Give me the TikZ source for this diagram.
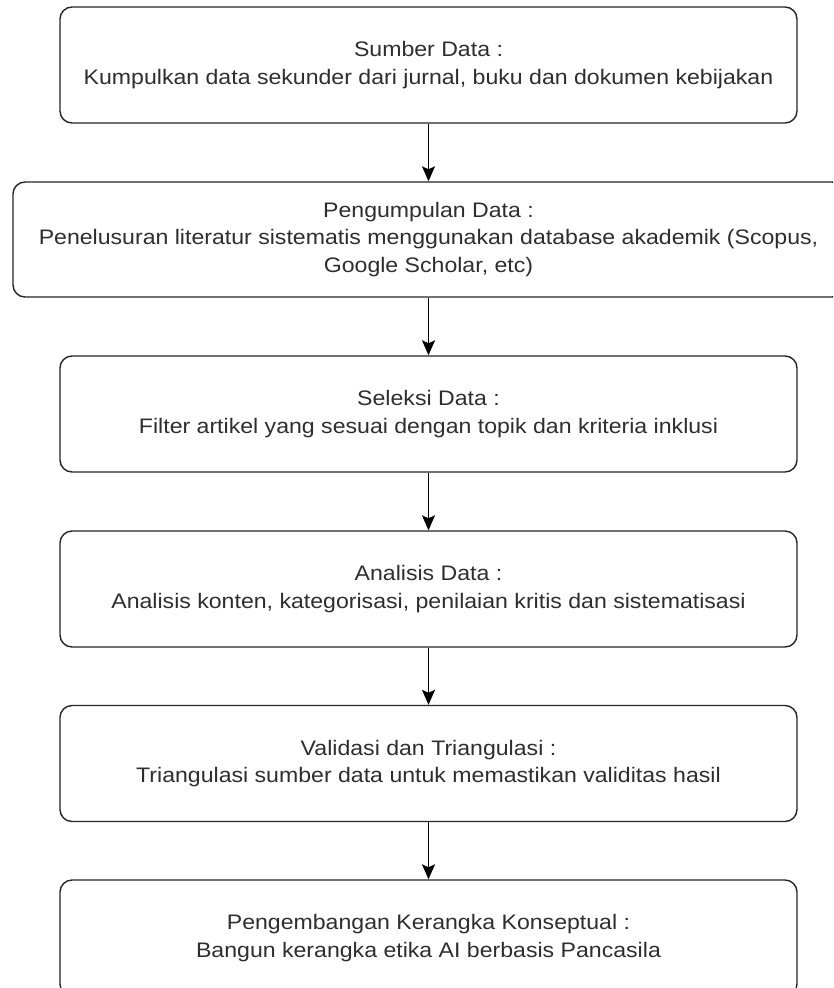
\documentclass[tikz,border=0pt]{standalone}
\usepackage{fontspec}
\setmainfont[FakeStretch=1.1]{Liberation Sans}
\usetikzlibrary{arrows.meta}
\definecolor{txt}{HTML}{2E2E2E}
\definecolor{edge}{HTML}{262626}
\tikzset{
  stepbox/.style={draw=edge, line width=1.4pt, rounded corners=12pt, fill=white,
    minimum width=737pt, minimum height=116pt, inner sep=0pt, align=center,
    text=txt, font=\fontsize{21}{27.5}\selectfont},
  flow/.style={draw=black, line width=1.4pt, -{Stealth[width=13pt,length=15pt,inset=3pt]}}
}
\begin{document}
\begin{tikzpicture}[x=1pt,y=-1pt]
\useasboundingbox (0,0) rectangle (833,988);
\clip (0,0) rectangle (833,988);
\fill[white] (0,0) rectangle (833,988);
\node[stepbox] (b1) at (428.5,65) {Sumber Data :\\Kumpulkan data sekunder dari jurnal, buku dan dokumen kebijakan};
\node[stepbox, minimum width=831pt, minimum height=115pt] (b2) at (428.5,239.5) {Pengumpulan Data :\\Penelusuran literatur sistematis menggunakan database akademik (Scopus,\\Google Scholar, etc)};
\node[stepbox] (b3) at (428.5,414) {Seleksi Data :\\Filter artikel yang sesuai dengan topik dan kriteria inklusi};
\node[stepbox] (b4) at (428.5,589) {Analisis Data :\\Analisis konten, kategorisasi, penilaian kritis dan sistematisasi};
\node[stepbox] (b5) at (428.5,763.5) {Validasi dan Triangulasi :\\Triangulasi sumber data untuk memastikan validitas hasil};
\node[stepbox] (b6) at (428.5,938) {Pengembangan Kerangka Konseptual :\\Bangun kerangka etika AI berbasis Pancasila};
\draw[flow] (b1) -- (b2);
\draw[flow] (b2) -- (b3);
\draw[flow] (b3) -- (b4);
\draw[flow] (b4) -- (b5);
\draw[flow] (b5) -- (b6);
\end{tikzpicture}
\end{document}
